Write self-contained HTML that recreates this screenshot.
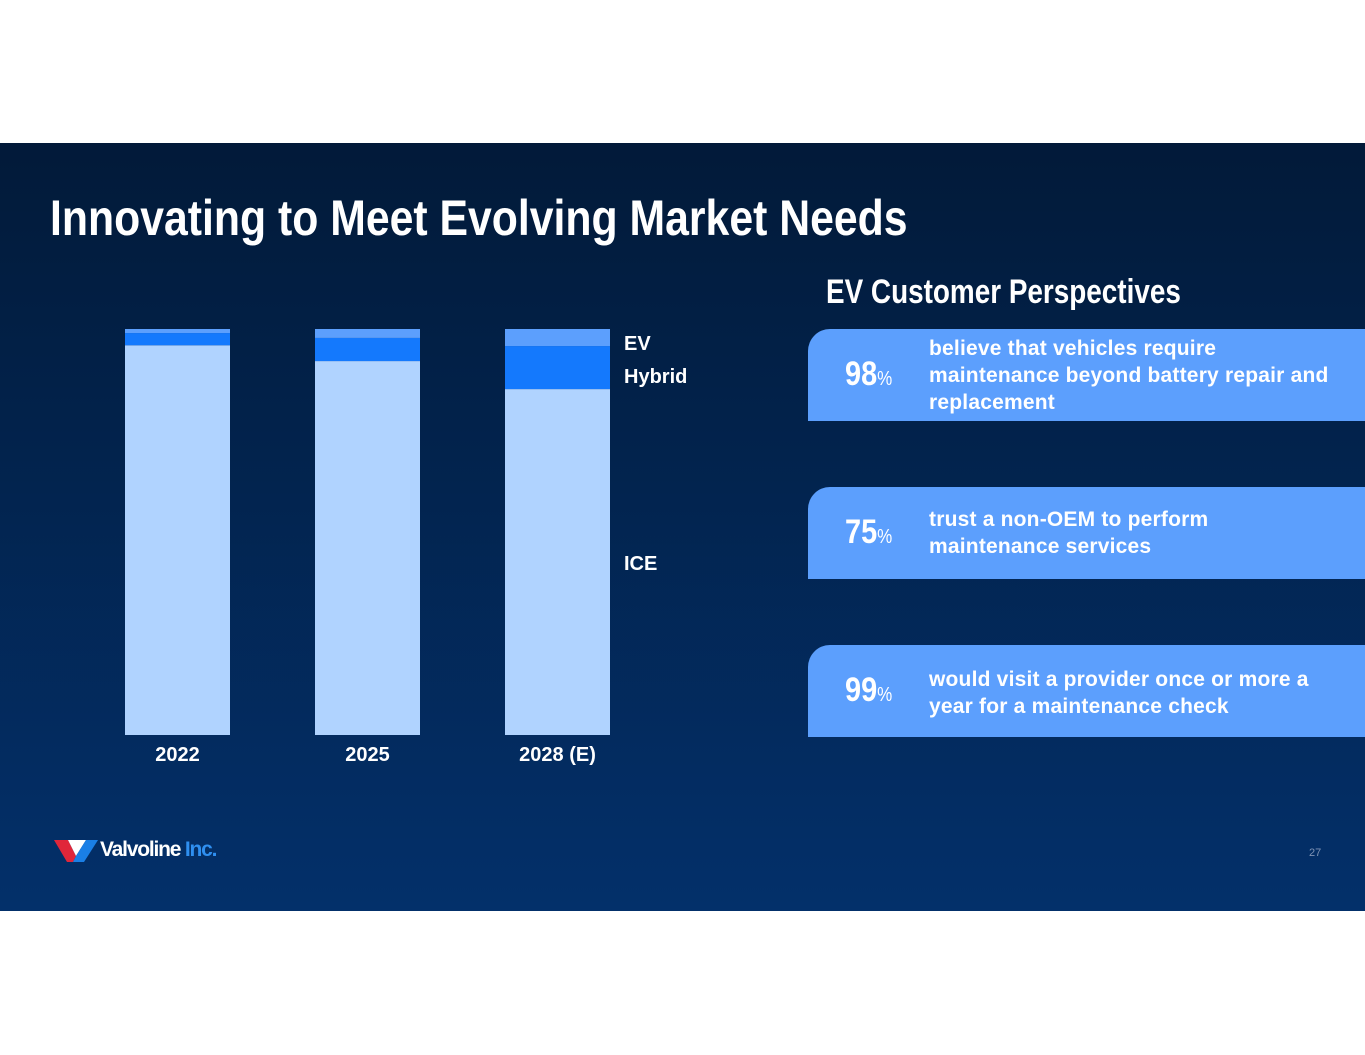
<!DOCTYPE html>
<html><head><meta charset="utf-8"><style>
body{margin:0;width:1365px;height:1055px;background:#fff;position:relative;overflow:hidden;font-family:"Liberation Sans",sans-serif}
#slide{position:absolute;left:0;top:143px;width:1365px;height:768px;background:linear-gradient(#021a39,#03306a)}
.t{position:absolute;color:#fff;white-space:nowrap}
.title{left:50px;top:46px;font-family:"Liberation Sans Narrow","Liberation Sans",sans-serif;font-weight:bold;font-size:50px;transform:scaleX(0.855);transform-origin:left}
.sub{left:826px;top:130px;font-family:"Liberation Sans Narrow","Liberation Sans",sans-serif;font-weight:bold;font-size:34px;transform:scaleX(0.82);transform-origin:left}
.card{position:absolute;left:808px;width:557px;height:92px;background:#5c9ffd;border-radius:22px 0 0 0}
.pct{position:absolute;left:37px;top:26px;color:#fff;font-family:"Liberation Sans Narrow","Liberation Sans",sans-serif;font-weight:bold;font-size:34px;white-space:nowrap;transform:scaleX(0.85);transform-origin:left}
.pct small{font-size:20px;font-weight:normal}
.ct{position:absolute;left:121px;color:#fff;font-weight:bold;font-size:21px;line-height:27px;letter-spacing:0.2px;white-space:nowrap}
</style></head><body>
<div id="slide">
<div class="t title">Innovating to Meet Evolving Market Needs</div>
<div class="t sub">EV Customer Perspectives</div>
<svg id="chart" width="760" height="650" style="position:absolute;left:0;top:0"></svg>
<div class="card" style="top:186px"><div class="pct">98<small>%</small></div><div class="ct" style="top:6px">believe that vehicles require<br>maintenance beyond battery repair and<br>replacement</div></div>
<div class="card" style="top:344px"><div class="pct">75<small>%</small></div><div class="ct" style="top:19px">trust a non-OEM to perform<br>maintenance services</div></div>
<div class="card" style="top:502px"><div class="pct">99<small>%</small></div><div class="ct" style="top:21px">would visit a provider once or more a<br>year for a maintenance check</div></div>
<div style="position:absolute;left:54px;top:695px;height:24px;width:200px">
<svg width="46" height="24" style="position:absolute;left:0;top:0"><polygon points="0,2 14,2 22,18 19,24 13,24" fill="#e0263a"/><polygon points="14,2 22,18 32,2" fill="#fff"/><polygon points="22,18 32,2 44,2 30,24 19,24" fill="#1a7fe6"/></svg>
<span style="position:absolute;left:46px;top:0;color:#fff;font-weight:bold;font-size:21px;letter-spacing:-1.2px;white-space:nowrap">Valvoline<span style="color:#2f8ff0"> Inc.</span></span></div>
<div class="t" style="left:1309px;top:704px;font-size:11px;color:#7f93b5">27</div>
</div>
<script>
const categories=["2022","2025","2028 (E)"];
const ice=[96.0,92.1,85.2];
const hybrid=[3.0,5.7,10.6];
const ev=[1.0,2.2,4.2];
const svg=document.getElementById('chart');
const NS='http://www.w3.org/2000/svg';
const y0=592,H=406,xs=i=>125+i*190,bw=105;
const y=v=>y0-v/100*H;
function rect(x,yt,h,c,n){const r=document.createElementNS(NS,'rect');r.setAttribute('x',x);r.setAttribute('y',yt);r.setAttribute('width',bw);r.setAttribute('height',h);r.setAttribute('fill',c);


svg.appendChild(r);}
function text(x,yy,s,n,anchor){const t=document.createElementNS(NS,'text');t.setAttribute('x',x);t.setAttribute('y',yy);t.setAttribute('fill','#fff');t.setAttribute('font-size','20');t.setAttribute('font-weight','bold');t.setAttribute('font-family','Liberation Sans, sans-serif');t.setAttribute('text-anchor',anchor);t.textContent=s;


svg.appendChild(t);}
categories.forEach((c,i)=>{
 const x=xs(i);
 rect(x,y(ice[i]),ice[i]/100*H,'#b0d3ff','bar-ice-'+c);
 rect(x,y(ice[i]+hybrid[i]),hybrid[i]/100*H,'#1479fd','bar-hybrid-'+c);
 rect(x,y(ice[i]+hybrid[i]+ev[i]),ev[i]/100*H,'#5c9ffd','bar-ev-'+c);
 text(x+bw/2,618,c,'x-label-'+c,'middle');
});
text(624,207,'EV','legend-ev','start');
text(624,240,'Hybrid','legend-hybrid','start');
text(624,427,'ICE','legend-ice','start');
</script>
</body></html>
